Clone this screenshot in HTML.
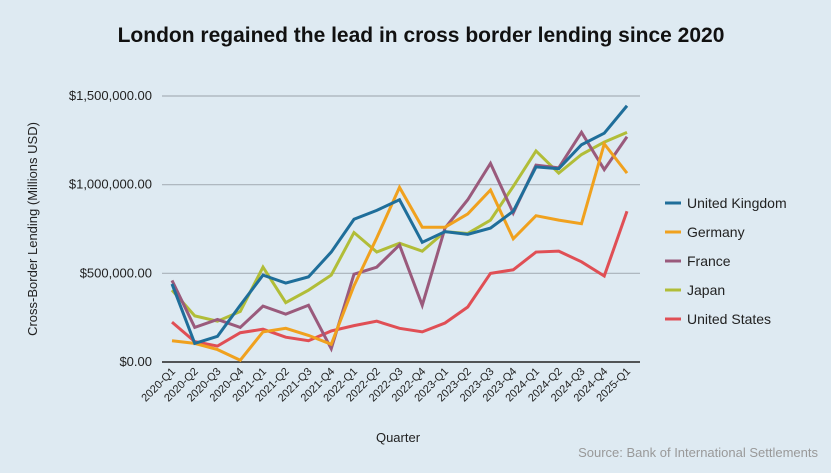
<!DOCTYPE html>
<html><head><meta charset="utf-8"><style>
body{margin:0;background:#deeaf2;font-family:"Liberation Sans",sans-serif;}
svg text{font-family:"Liberation Sans",sans-serif;}
</style></head><body>
<svg width="831" height="468" xmlns="http://www.w3.org/2000/svg">
<rect width="831" height="468" fill="#deeaf2"/>
<text x="421" y="42" text-anchor="middle" font-size="21" font-weight="bold" fill="#111">London regained the lead in cross border lending since 2020</text>
<g id="grid"></g><g id="lines"></g><g id="xt"></g>
<text transform="translate(37,229) rotate(-90)" text-anchor="middle" font-size="13" fill="#222">Cross-Border Lending (Millions USD)</text>
<text x="398" y="442" text-anchor="middle" font-size="13" fill="#222">Quarter</text>
<text x="818" y="457" text-anchor="end" font-size="13" fill="#999">Source: Bank of International Settlements</text>
<g id="legend"></g>
</svg>
<script>
const categories=["2020-Q1","2020-Q2","2020-Q3","2020-Q4","2021-Q1","2021-Q2","2021-Q3","2021-Q4","2022-Q1","2022-Q2","2022-Q3","2022-Q4","2023-Q1","2023-Q2","2023-Q3","2023-Q4","2024-Q1","2024-Q2","2024-Q3","2024-Q4","2025-Q1"];
const seriesNames=["United Kingdom","Germany","France","Japan","United States"];
const ukValues=[440,105,145,320,490,445,480,620,805,855,915,675,735,720,755,850,1100,1090,1225,1290,1445];
const germanyValues=[120,105,70,10,170,190,150,100,430,700,985,760,760,835,970,695,825,800,780,1230,1065];
const franceValues=[460,195,240,195,315,270,320,75,495,535,660,320,755,915,1120,840,1110,1095,1295,1085,1270];
const japanValues=[405,260,230,285,535,335,405,490,730,620,670,625,735,725,800,990,1190,1065,1170,1240,1295];
const usValues=[225,115,90,165,185,140,120,175,205,230,190,170,220,310,500,520,620,625,565,485,850];
const yTicks=[0,500,1000,1500];
const yTickLabels=["$0.00","$500,000.00","$1,000,000.00","$1,500,000.00"];
const colors=["#1f6e9a","#f0a11e","#9a5a7c","#b1bd38","#e04f55"];
const NS="http://www.w3.org/2000/svg";
const x=i=>172+i*(627-172)/(categories.length-1);
const y=v=>362-v*(362-96)/1500;
function mk(t,a,p){const e=document.createElementNS(NS,t);for(const k in a)e.setAttribute(k,a[k]);p.appendChild(e);return e;}
const grid=document.getElementById('grid');
yTicks.forEach((v,i)=>{
 const l=mk('line',{x1:162,x2:640,y1:y(v),y2:y(v),stroke:v===0?'#222':'#a8b0b8','stroke-width':v===0?1.5:1.2},grid);
 
 
 const t=mk('text',{x:152,y:y(v)+4,'text-anchor':'end','font-size':13,fill:'#222'},grid);
 t.textContent=yTickLabels[i];
 
 
});
const xt=document.getElementById('xt');
categories.forEach((c,i)=>{
 const t=mk('text',{transform:`translate(${x(i)+4},${372}) rotate(-45)`,'text-anchor':'end','font-size':11,fill:'#222'},xt);
 t.textContent=c;
 
 
});
const all=[ukValues,germanyValues,franceValues,japanValues,usValues];
const lines=document.getElementById('lines');
[4,3,2,1,0].forEach(s=>{
 const p=mk('polyline',{points:all[s].map((v,i)=>x(i)+','+y(v)).join(' '),fill:'none',stroke:colors[s],'stroke-width':3,'stroke-linejoin':'miter'},lines);
 
 
});
const lg=document.getElementById('legend');
seriesNames.forEach((n,i)=>{
 const yy=203+i*29;
 const g=mk('g',{},lg);
 
 
 mk('line',{x1:665,x2:681,y1:yy,y2:yy,stroke:colors[i],'stroke-width':3},g);
 const t=mk('text',{x:687,y:yy+5,'font-size':14,fill:'#222'},g);t.textContent=n;
});
</script>
</body></html>
